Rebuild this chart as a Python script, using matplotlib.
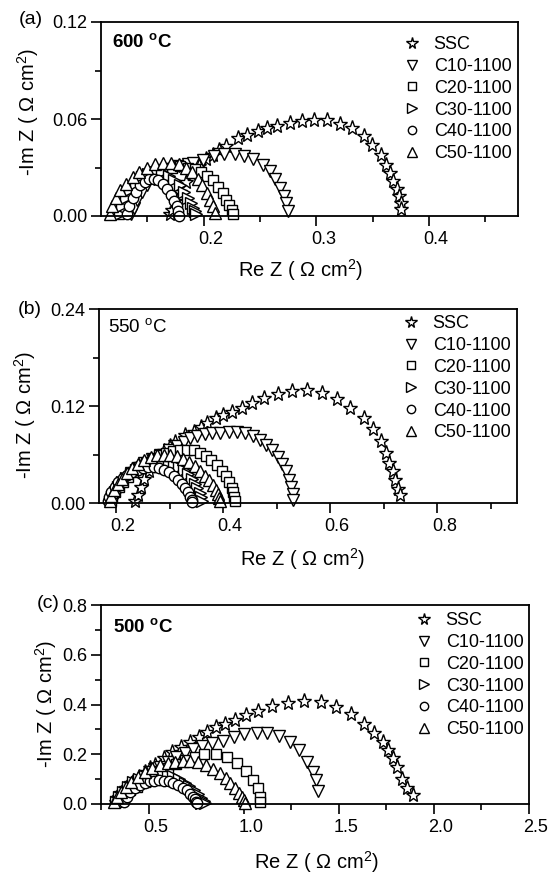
import matplotlib
matplotlib.use('Agg')
import matplotlib.pyplot as plt
from matplotlib.ticker import MultipleLocator, FormatStrFormatter
from matplotlib.transforms import Affine2D, ScaledTranslation
from matplotlib.lines import Line2D

plt.rcParams['font.family'] = ['Liberation Sans', 'DejaVu Sans']
plt.rcParams['mathtext.fontset'] = 'custom'
plt.rcParams['mathtext.rm'] = 'Liberation Sans'
plt.rcParams['mathtext.it'] = 'Liberation Sans:italic'
plt.rcParams['mathtext.bf'] = 'Liberation Sans:bold'

# ---------------- data ----------------
labels = ['SSC', 'C10-1100', 'C20-1100', 'C30-1100', 'C40-1100', 'C50-1100']

# Panel (a) 600 C
ssc_a_x = [0.170, 0.172, 0.175, 0.179, 0.184, 0.190, 0.196, 0.202, 0.208, 0.214, 0.220, 0.2303, 0.2388, 0.2481,
           0.2560, 0.2653, 0.2763, 0.2872, 0.2982, 0.3091, 0.3210, 0.3316, 0.3420, 0.3498, 0.3576, 0.3623,
           0.3654, 0.3685, 0.3717, 0.3732, 0.3748, 0.3754]
ssc_a_y = [0.001, 0.004, 0.009, 0.015, 0.021, 0.026, 0.031, 0.035, 0.038, 0.041, 0.0431, 0.0482, 0.0503, 0.0523,
           0.0544, 0.0558, 0.0578, 0.0588, 0.0595, 0.0591, 0.0570, 0.0544, 0.0496, 0.0441, 0.0379, 0.0318,
           0.0267, 0.0215, 0.0164, 0.0123, 0.0082, 0.0041]
c10_a_x = [0.136, 0.138, 0.141, 0.145, 0.150, 0.156, 0.163, 0.170, 0.178, 0.186, 0.1903, 0.1997, 0.2091, 0.2184,
           0.2278, 0.2356, 0.2435, 0.2528, 0.2591, 0.2638, 0.2678, 0.2710, 0.2732, 0.2753]
c10_a_y = [0.001, 0.005, 0.010, 0.015, 0.019, 0.023, 0.026, 0.029, 0.031, 0.032, 0.0328, 0.0349, 0.0373, 0.0386,
           0.0383, 0.0373, 0.0353, 0.0318, 0.0277, 0.0226, 0.0174, 0.0123, 0.0082, 0.0031]
c20_a_x = [0.125, 0.127, 0.130, 0.134, 0.139, 0.145, 0.151, 0.158, 0.165, 0.172, 0.179, 0.186, 0.192, 0.198,
           0.203, 0.208, 0.213, 0.217, 0.220, 0.223, 0.225, 0.226]
c20_a_y = [0.001, 0.005, 0.010, 0.014, 0.018, 0.022, 0.025, 0.027, 0.029, 0.030, 0.031, 0.030, 0.029, 0.027,
           0.025, 0.022, 0.018, 0.014, 0.010, 0.007, 0.004, 0.001]
c30_a_x = [0.126, 0.128, 0.131, 0.135, 0.140, 0.145, 0.151, 0.157, 0.163, 0.169, 0.174, 0.179, 0.183, 0.186,
           0.189, 0.191, 0.192, 0.193]
c30_a_y = [0.001, 0.006, 0.011, 0.016, 0.020, 0.024, 0.026, 0.027, 0.027, 0.025, 0.022, 0.019, 0.015, 0.011,
           0.008, 0.005, 0.003, 0.001]
c40_a_x = [0.132, 0.134, 0.137, 0.140, 0.144, 0.148, 0.152, 0.156, 0.160, 0.164, 0.168, 0.171, 0.174, 0.176,
           0.177, 0.178]
c40_a_y = [0.001, 0.006, 0.011, 0.015, 0.019, 0.021, 0.023, 0.023, 0.022, 0.020, 0.017, 0.013, 0.009, 0.006,
           0.003, 0.000]
c50_a_x = [0.117, 0.119, 0.122, 0.126, 0.131, 0.137, 0.143, 0.150, 0.157, 0.164, 0.171, 0.178, 0.184, 0.190,
           0.195, 0.199, 0.203, 0.206, 0.208, 0.210]
c50_a_y = [0.001, 0.006, 0.011, 0.016, 0.020, 0.024, 0.027, 0.030, 0.032, 0.033, 0.033, 0.032, 0.030, 0.027,
           0.023, 0.019, 0.014, 0.010, 0.006, 0.002]

# Panel (b) 550 C
ssc_b_x = [0.236, 0.240, 0.246, 0.253, 0.261, 0.270, 0.280, 0.290, 0.300, 0.3098, 0.3291, 0.3451, 0.3579, 0.3707,
           0.3868, 0.3996, 0.4156, 0.4348, 0.4541, 0.4765, 0.5022, 0.5278, 0.5566, 0.5855, 0.6124, 0.6368,
           0.6624, 0.6804, 0.6945, 0.7041, 0.7105, 0.7169, 0.7214, 0.7265, 0.7297]
ssc_b_y = [0.002, 0.010, 0.020, 0.030, 0.040, 0.049, 0.057, 0.064, 0.070, 0.0759, 0.0841, 0.0882, 0.0944, 0.0985,
           0.1046, 0.1087, 0.1128, 0.1177, 0.1243, 0.1300, 0.1354, 0.1382, 0.1395, 0.1366, 0.1292, 0.1177,
           0.1054, 0.0915, 0.0767, 0.0615, 0.0492, 0.0390, 0.0287, 0.0176, 0.0094]
c10_b_x = [0.195, 0.198, 0.203, 0.210, 0.218, 0.228, 0.240, 0.253, 0.267, 0.282, 0.298, 0.313, 0.326, 0.338,
           0.352, 0.366, 0.380, 0.395, 0.410, 0.425, 0.440, 0.455, 0.468, 0.480, 0.492, 0.502, 0.510, 0.517,
           0.523, 0.527, 0.530, 0.531]
c10_b_y = [0.002, 0.009, 0.016, 0.023, 0.030, 0.037, 0.043, 0.049, 0.055, 0.060, 0.065, 0.070, 0.076, 0.080,
           0.083, 0.085, 0.086, 0.087, 0.088, 0.088, 0.086, 0.083, 0.078, 0.072, 0.065, 0.057, 0.048, 0.039,
           0.029, 0.020, 0.011, 0.004]
c20_b_x = [0.190, 0.193, 0.198, 0.205, 0.213, 0.222, 0.232, 0.243, 0.255, 0.268, 0.281, 0.294, 0.307, 0.320,
           0.333, 0.345, 0.357, 0.368, 0.378, 0.388, 0.397, 0.405, 0.411, 0.416, 0.419, 0.421, 0.422]
c20_b_y = [0.002, 0.008, 0.014, 0.020, 0.026, 0.032, 0.038, 0.044, 0.050, 0.055, 0.059, 0.062, 0.064, 0.065,
           0.066, 0.065, 0.062, 0.058, 0.053, 0.047, 0.040, 0.033, 0.026, 0.019, 0.013, 0.007, 0.002]
c30_b_x = [0.190, 0.193, 0.198, 0.204, 0.211, 0.219, 0.228, 0.238, 0.248, 0.258, 0.268, 0.278, 0.288, 0.298,
           0.308, 0.317, 0.326, 0.334, 0.341, 0.347, 0.352, 0.356, 0.359, 0.361]
c30_b_y = [0.002, 0.008, 0.014, 0.020, 0.026, 0.031, 0.036, 0.041, 0.045, 0.048, 0.050, 0.051, 0.051, 0.050,
           0.048, 0.045, 0.041, 0.036, 0.030, 0.024, 0.018, 0.012, 0.007, 0.002]
c40_b_x = [0.184, 0.187, 0.191, 0.197, 0.204, 0.212, 0.221, 0.230, 0.240, 0.250, 0.260, 0.270, 0.280, 0.290,
           0.299, 0.308, 0.316, 0.323, 0.329, 0.334, 0.338, 0.341, 0.342]
c40_b_y = [0.002, 0.008, 0.014, 0.020, 0.026, 0.031, 0.035, 0.038, 0.041, 0.043, 0.044, 0.044, 0.043, 0.041,
           0.038, 0.034, 0.029, 0.024, 0.018, 0.013, 0.008, 0.004, 0.001]
c50_b_x = [0.188, 0.191, 0.196, 0.203, 0.211, 0.220, 0.230, 0.241, 0.253, 0.265, 0.277, 0.289, 0.301, 0.313,
           0.325, 0.336, 0.347, 0.357, 0.366, 0.374, 0.381, 0.386, 0.390, 0.393, 0.395]
c50_b_y = [0.002, 0.009, 0.016, 0.023, 0.030, 0.037, 0.043, 0.048, 0.053, 0.057, 0.059, 0.060, 0.060, 0.058,
           0.055, 0.051, 0.046, 0.040, 0.034, 0.028, 0.022, 0.016, 0.011, 0.006, 0.002]

# Panel (c) 500 C
ssc_c_x = [0.33, 0.345, 0.365, 0.39, 0.42, 0.45, 0.48, 0.505, 0.5327, 0.5788, 0.6249, 0.6710, 0.7171, 0.7632,
           0.8093, 0.8554, 0.9015, 0.9568, 1.0122, 1.0767, 1.1505, 1.2334, 1.3164, 1.4049, 1.4861, 1.5654,
           1.6336, 1.6852, 1.7313, 1.7590, 1.7867, 1.8051, 1.8328, 1.8604, 1.8881]
ssc_c_y = [0.01, 0.03, 0.05, 0.07, 0.09, 0.11, 0.13, 0.145, 0.1563, 0.1830, 0.2097, 0.2297, 0.2497, 0.2698,
           0.2898, 0.3098, 0.3205, 0.3365, 0.3566, 0.3740, 0.3927, 0.4060, 0.4140, 0.4100, 0.3900, 0.3606,
           0.3232, 0.2858, 0.2497, 0.2164, 0.1830, 0.1469, 0.0988, 0.0628, 0.0361]
c10_c_x = [0.33, 0.35, 0.375, 0.405, 0.44, 0.48, 0.52, 0.56, 0.60, 0.645, 0.69, 0.735, 0.78, 0.835, 0.8923,
           0.9476, 1.0029, 1.0675, 1.1228, 1.1873, 1.2427, 1.2888, 1.3312, 1.3625, 1.3810, 1.3902]
c10_c_y = [0.01, 0.03, 0.05, 0.07, 0.09, 0.11, 0.13, 0.15, 0.17, 0.19, 0.205, 0.22, 0.232, 0.244, 0.2538,
           0.2698, 0.2805, 0.2858, 0.2858, 0.2725, 0.2497, 0.2164, 0.1696, 0.1295, 0.0962, 0.0534]
c20_c_x = [0.33, 0.35, 0.375, 0.405, 0.44, 0.48, 0.52, 0.56, 0.60, 0.645, 0.69, 0.7448, 0.7909, 0.8554, 0.9107,
           0.9661, 1.0122, 1.0490, 1.0767, 1.0859, 1.088]
c20_c_y = [0.01, 0.025, 0.04, 0.055, 0.07, 0.09, 0.11, 0.13, 0.145, 0.162, 0.177, 0.1897, 0.2030, 0.2003, 0.1897,
           0.1643, 0.1322, 0.0962, 0.0628, 0.0294, 0.010]
c30_c_x = [0.33, 0.345, 0.365, 0.39, 0.42, 0.45, 0.48, 0.51, 0.54, 0.57, 0.60, 0.63, 0.66, 0.69, 0.715, 0.74,
           0.76, 0.777, 0.79, 0.798]
c30_c_y = [0.01, 0.03, 0.05, 0.07, 0.088, 0.102, 0.112, 0.118, 0.121, 0.121, 0.118, 0.111, 0.100, 0.086, 0.071,
           0.055, 0.040, 0.026, 0.014, 0.005]
c40_c_x = [0.37, 0.385, 0.405, 0.43, 0.455, 0.48, 0.505, 0.53, 0.555, 0.58, 0.605, 0.63, 0.655, 0.68, 0.70,
           0.72, 0.735, 0.746, 0.752, 0.754]
c40_c_y = [0.01, 0.03, 0.048, 0.064, 0.076, 0.085, 0.091, 0.094, 0.095, 0.094, 0.091, 0.085, 0.077, 0.066,
           0.055, 0.042, 0.030, 0.019, 0.010, 0.004]
c50_c_x = [0.32, 0.335, 0.355, 0.38, 0.41, 0.445, 0.48, 0.52, 0.56, 0.60, 0.64, 0.68, 0.72, 0.76, 0.80, 0.84,
           0.875, 0.905, 0.93, 0.955, 0.975, 0.99, 1.0, 1.005]
c50_c_y = [0.01, 0.03, 0.05, 0.07, 0.09, 0.11, 0.127, 0.143, 0.155, 0.164, 0.170, 0.173, 0.172, 0.167, 0.157,
           0.142, 0.124, 0.104, 0.084, 0.063, 0.045, 0.029, 0.016, 0.005]

temps = ['600', '550', '500']
tags = ['(a)', '(b)', '(c)']

# ---------------- styling ----------------
markers = ['*', 'v', 's', '>', 'o', '^']
msizes = [11.0, 8.5, 7.5, 8.5, 7.5, 8.5]
leg_msizes = [8.5, 7.0, 6.0, 7.0, 6.0, 7.0]

W, H = 550, 876
fig = plt.figure(figsize=(W / 100, H / 100), dpi=100)
T = Affine2D().scale(1.0 / W, -1.0 / H).translate(0, 1) + fig.transFigure


def make_axes(l, r, t, b):
    return fig.add_axes([l / W, 1 - b / H, (r - l) / W, (b - t) / H])


panels = [
    dict(box=(101, 518, 22, 216), xs=[ssc_a_x, c10_a_x, c20_a_x, c30_a_x, c40_a_x, c50_a_x],
         ys=[ssc_a_y, c10_a_y, c20_a_y, c30_a_y, c40_a_y, c50_a_y],
         xlim=(0.109, 0.479), ylim=(0, 0.12), xmaj=0.1, xmin=0.05, ymaj=0.06, ymin=0.03,
         xfmt='%.1f', yfmt='%.2f', bold=True, temp_px=(112, 42), leg_px=(403, 36),
         tag_px=(31, 20), ylab_px=(28, 112), xlab_px=(300, 270)),
    dict(box=(99, 517, 309, 503), xs=[ssc_b_x, c10_b_x, c20_b_x, c30_b_x, c40_b_x, c50_b_x],
         ys=[ssc_b_y, c10_b_y, c20_b_y, c30_b_y, c40_b_y, c50_b_y],
         xlim=(0.168, 0.949), ylim=(0, 0.24), xmaj=0.2, xmin=0.1, ymaj=0.12, ymin=0.06,
         xfmt='%.1f', yfmt='%.2f', bold=False, temp_px=(108, 327), leg_px=(402, 315),
         tag_px=(30, 310), ylab_px=(25, 415), xlab_px=(302, 559)),
    dict(box=(101, 529, 605, 804), xs=[ssc_c_x, c10_c_x, c20_c_x, c30_c_x, c40_c_x, c50_c_x],
         ys=[ssc_c_y, c10_c_y, c20_c_y, c30_c_y, c40_c_y, c50_c_y],
         xlim=(0.25, 2.5), ylim=(0, 0.8), xmaj=0.5, xmin=0.25, ymaj=0.2, ymin=0.1,
         xfmt='%.1f', yfmt='%.1f', bold=True, temp_px=(113, 627), leg_px=(415, 612),
         tag_px=(48, 604), ylab_px=(46, 704), xlab_px=(316, 862)),
]

for i, p in enumerate(panels):
    ax = make_axes(*p['box'])
    for xs, ys, m, ms in zip(p['xs'], p['ys'], markers, msizes):
        ax.plot(xs, ys, ls='none', marker=m, ms=ms, mfc='white', mec='black', mew=1.0, clip_on=False)
    ax.set_xlim(*p['xlim'])
    ax.set_ylim(*p['ylim'])
    ax.xaxis.set_major_locator(MultipleLocator(p['xmaj']))
    ax.xaxis.set_minor_locator(MultipleLocator(p['xmin']))
    ax.yaxis.set_major_locator(MultipleLocator(p['ymaj']))
    ax.yaxis.set_minor_locator(MultipleLocator(p['ymin']))
    ax.xaxis.set_major_formatter(FormatStrFormatter(p['xfmt']))
    ax.yaxis.set_major_formatter(FormatStrFormatter(p['yfmt']))
    for s in ax.spines.values():
        s.set_linewidth(1.3)
    ax.tick_params(which='both', direction='out', top=False, right=False, width=1.2, labelsize=13)
    ax.tick_params(which='major', length=7)
    ax.tick_params(which='minor', length=4)
    ax.tick_params(axis='x', which='major', pad=4)
    ax.tick_params(axis='y', which='major', pad=3)
    shift = ScaledTranslation(7 / 100, 0, fig.dpi_scale_trans)
    for lab in ax.get_xticklabels():
        lab.set_transform(lab.get_transform() + shift)

    ax.set_xlabel('Re Z ( \u03a9 cm$^{\\mathregular{2}}$)', fontsize=14.5)
    ax.set_ylabel('-Im Z ( \u03a9 cm$^{\\mathregular{2}}$)', fontsize=14.5)
    xl = ax.xaxis.label
    xl.set_va('center'); xl.set_ha('center')
    ax.xaxis.set_label_coords(p['xlab_px'][0], p['xlab_px'][1], transform=T)
    yl = ax.yaxis.label
    yl.set_rotation_mode('default'); yl.set_va('center'); yl.set_ha('center')
    ax.yaxis.set_label_coords(p['ylab_px'][0], p['ylab_px'][1], transform=T)

    if p['bold']:
        ttxt = temps[i] + ' $^{\\mathbf{o}}$C'
    else:
        ttxt = temps[i] + ' $^{\\mathregular{o}}$C'
    ax.text(p['temp_px'][0], p['temp_px'][1], ttxt, transform=T, ha='left', va='center',
            fontsize=13.5, fontweight='bold' if p['bold'] else 'normal')
    fig.text(p['tag_px'][0], p['tag_px'][1], tags[i], transform=T, ha='center', va='center', fontsize=14)

    handles = [Line2D([], [], ls='none', marker=m, ms=ms, mfc='white', mec='black', mew=1.0)
               for m, ms in zip(markers, leg_msizes)]
    ax.legend(handles, labels, loc='upper left', bbox_to_anchor=(p['leg_px'][0] / W, 1 - p['leg_px'][1] / H),
              bbox_transform=fig.transFigure, frameon=False, fontsize=13, borderpad=0, borderaxespad=0,
              handlelength=1.0, handletextpad=0.7, labelspacing=0.27)

fig.savefig('out.png', dpi=100)
